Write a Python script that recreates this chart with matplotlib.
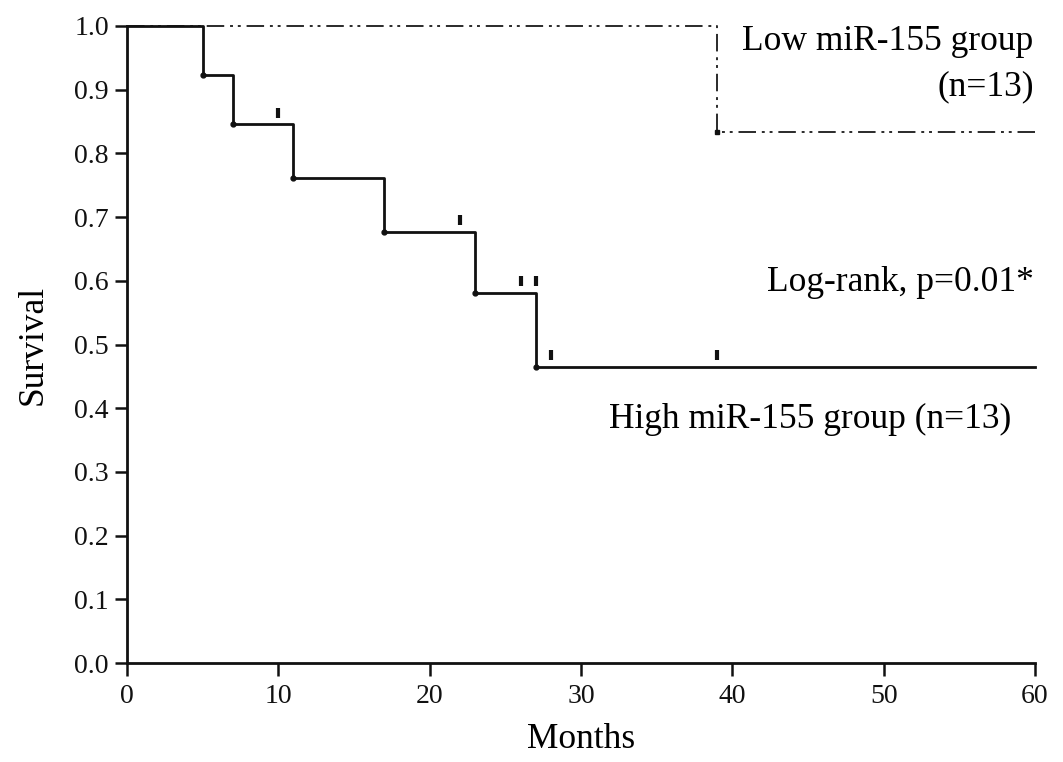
import matplotlib
matplotlib.use("Agg")
import matplotlib.pyplot as plt

# High miR-155 group (Kaplan-Meier steps)
high_times = [0, 5, 7, 11, 17, 23, 27, 60]
high_surv = [1.0, 0.923, 0.846, 0.762, 0.677, 0.581, 0.465, 0.465]
high_event_times = [5, 7, 11, 17, 23, 27]
high_event_surv = [0.923, 0.846, 0.762, 0.677, 0.581, 0.465]
high_censor_times = [10, 22, 26, 27, 28, 39]
high_censor_surv = [0.846, 0.677, 0.581, 0.581, 0.465, 0.465]

# Low miR-155 group
low_times = [0, 39, 60]
low_surv = [1.0, 0.833, 0.833]
low_event_times = [39]
low_event_surv = [0.833]

x_ticks = [0, 10, 20, 30, 40, 50, 60]
y_ticks = [0.0, 0.1, 0.2, 0.3, 0.4, 0.5, 0.6, 0.7, 0.8, 0.9, 1.0]

plt.rcParams['font.family'] = ['Liberation Serif', 'DejaVu Serif']

fig = plt.figure(figsize=(10.63, 7.62), dpi=100)
ax = fig.add_axes([0.1195, 0.1299, 0.9737 - 0.1195, 0.9659 - 0.1299])

ax.step(low_times, low_surv, where='post', color='#2a2a2a', lw=1.4,
        dashes=(9, 3, 1.5, 2.5, 1.5, 3), clip_on=False, zorder=3)
ax.plot(low_event_times, low_event_surv, 's', color='#111111', ms=3.5, clip_on=False, zorder=4)

ax.step(high_times, high_surv, where='post', color='#111111', lw=2.0,
        clip_on=False, zorder=3)
ax.plot(high_event_times, high_event_surv, 'o', color='#111111', ms=3.5, clip_on=False, zorder=4)
ax.plot(high_censor_times, [s + 0.018 for s in high_censor_surv], '|', color='#111111',
        ms=7, mew=3, clip_on=False, zorder=4)

ax.set_xlim(0, 60)
ax.set_ylim(0, 1.0)
ax.set_xticks(x_ticks)
ax.set_yticks(y_ticks)
ax.set_xticklabels([str(t) for t in x_ticks])
ax.set_yticklabels([f"{t:.1f}" for t in y_ticks])

for s in ['top', 'right']:
    ax.spines[s].set_visible(False)
for s in ['left', 'bottom']:
    ax.spines[s].set_linewidth(2.0)
    ax.spines[s].set_color('#111111')
ax.tick_params(axis='both', direction='out', length=9, width=1.8, labelsize=20,
               colors='#111111')
ax.tick_params(axis='x', pad=6)
ax.tick_params(axis='y', pad=4)

ax.set_xlabel('Months', fontsize=25.5, labelpad=10)
ax.set_ylabel('Survival', fontsize=25.5, labelpad=18)

ax.text(59.9, 0.975, 'Low miR-155 group', ha='right', va='center', fontsize=25.5)
ax.text(59.9, 0.905, '(n=13)', ha='right', va='center', fontsize=25.5)
ax.text(59.9, 0.597, 'Log-rank, p=0.01*', ha='right', va='center', fontsize=25.5)
ax.text(58.4, 0.382, 'High miR-155 group (n=13)', ha='right', va='center', fontsize=25.5)

fig.savefig('out.png', dpi=100)
